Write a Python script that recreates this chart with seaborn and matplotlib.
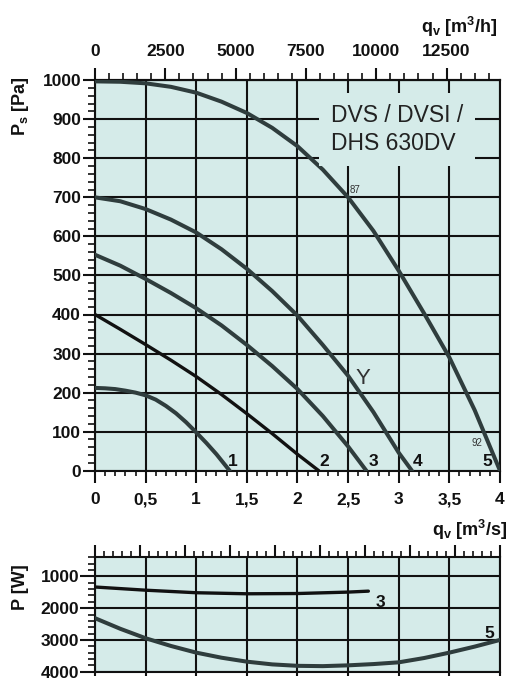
import matplotlib
matplotlib.use('Agg')
import matplotlib.pyplot as plt
import seaborn as sns
from matplotlib.ticker import MultipleLocator, NullFormatter

# 데이터 - 정압 곡선 q [m3/s], Ps [Pa]
q1 = [0, 0.1, 0.2, 0.3, 0.4, 0.5, 0.6, 0.7, 0.8, 0.9, 1.0, 1.1, 1.2, 1.33]
ps1 = [212, 211, 209, 205, 200, 193, 182, 166, 147, 124, 98, 71, 42, 0]

q2 = [0, 0.25, 0.5, 0.75, 1.0, 1.25, 1.5, 1.75, 2.0, 2.21]
ps2 = [400, 362, 323, 283, 241, 195, 146, 95, 42, 0]

q3 = [0, 0.25, 0.5, 0.75, 1.0, 1.25, 1.5, 1.75, 2.0, 2.25, 2.5, 2.68]
ps3 = [553, 525, 491, 455, 416, 372, 322, 268, 209, 140, 62, 0]

q4 = [0, 0.25, 0.5, 0.75, 1.0, 1.25, 1.5, 1.75, 2.0, 2.25, 2.5, 2.75, 3.0, 3.13]
ps4 = [700, 690, 670, 643, 610, 567, 517, 460, 397, 322, 243, 150, 46, 0]

q5 = [0, 0.25, 0.5, 0.75, 1.0, 1.25, 1.5, 1.75, 2.0, 2.25, 2.5, 2.75, 3.0, 3.25, 3.5, 3.75, 4.0]
ps5 = [997, 996, 992, 983, 968, 945, 916, 878, 831, 771, 700, 614, 512, 403, 290, 155, 0]

# 소비 전력 곡선 P [W]
qp3 = [0, 0.5, 1.0, 1.5, 2.0, 2.5, 2.7]
pw3 = [1335, 1435, 1515, 1548, 1540, 1495, 1465]
qp5 = [0, 0.25, 0.5, 0.75, 1.0, 1.25, 1.5, 1.75, 2.0, 2.25, 2.5, 2.75, 3.0, 3.25, 3.5, 3.75, 4.0]
pw5 = [2316, 2650, 2947, 3190, 3400, 3560, 3684, 3770, 3815, 3825, 3800, 3760, 3705, 3570, 3400, 3210, 3000]

# 눈금 라벨
q_ticks = [0, 0.5, 1, 1.5, 2, 2.5, 3, 3.5, 4]
q_labels = ['0', '0,5', '1', '1,5', '2', '2,5', '3', '3,5', '4']
qh_ticks = [0, 2500, 5000, 7500, 10000, 12500]
ps_ticks = [0, 100, 200, 300, 400, 500, 600, 700, 800, 900, 1000]
pw_ticks = [1000, 2000, 3000, 4000]

sns.set_theme(style='ticks')
plt.rcParams['font.family'] = ['Liberation Sans', 'DejaVu Sans']
plt.rcParams['font.weight'] = 'bold'
plt.rcParams['mathtext.fontset'] = 'custom'
plt.rcParams['mathtext.rm'] = 'Liberation Sans:bold'
plt.rcParams['mathtext.bf'] = 'Liberation Sans:bold'
plt.rcParams['mathtext.it'] = 'Liberation Sans:bold'

BG = '#d5ebe9'
CURVE = '#2f3d3d'
INK = '#111111'
FS = 12.5

fig = plt.figure(figsize=(5.1, 6.87), dpi=100)
ax = fig.add_axes([95 / 510, 1 - 470.7 / 687, 405 / 510, 390.5 / 687])
ax2 = fig.add_axes([95 / 510, 1 - 671.7 / 687, 405 / 510, 114.4 / 687])


def style_axes(a):
    a.set_facecolor(BG)
    for sp in a.spines.values():
        sp.set_visible(True)
        sp.set_color(INK)
        sp.set_linewidth(1.5)
    a.grid(True, which='major', color=INK, lw=1.5)
    a.set_xlabel('')
    a.set_ylabel('')


# 1. 정압 곡선
curves = [(q1, ps1, CURVE, 2.9), (q2, ps2, INK, 2.4), (q3, ps3, CURVE, 2.9),
          (q4, ps4, CURVE, 2.9), (q5, ps5, CURVE, 2.9)]
for q, p, c, w in curves:
    sns.lineplot(x=q, y=p, ax=ax, color=c, lw=w, sort=False, zorder=3,
                 solid_joinstyle='round')

ax.set_xlim(0, 4)
ax.set_ylim(0, 1000)
ax.set_xticks(q_ticks, labels=q_labels)
ax.xaxis.set_minor_locator(MultipleLocator(0.1))
ax.set_yticks(ps_ticks)
ax.yaxis.set_minor_locator(MultipleLocator(20))
style_axes(ax)
ax.tick_params(axis='x', which='major', direction='out', length=8.5, width=1.5,
               pad=7, labelsize=FS, colors=INK)
ax.tick_params(axis='x', which='minor', direction='out', length=3.8, width=1.2, colors=INK)
ax.tick_params(axis='y', which='major', direction='out', length=9, width=1.5,
               pad=1, labelsize=FS, colors=INK)
ax.tick_params(axis='y', which='minor', direction='out', length=5, width=1.2, colors=INK)

# 상단 m3/h 축
sec = ax.secondary_xaxis('top', functions=(lambda x: x * 3600, lambda x: x / 3600))
sec.set_xticks(qh_ticks)
sec.xaxis.set_minor_locator(MultipleLocator(500))
sec.tick_params(which='major', direction='out', length=8.5, width=1.5, pad=7,
                labelsize=FS, colors=INK)
sec.tick_params(which='minor', direction='out', length=5, width=1.2, colors=INK)
sec.spines['top'].set_linewidth(1.5)
sec.spines['top'].set_color(INK)

# 곡선 번호 / 주석
for lbl, x in zip(['1', '2', '3', '4', '5'], [1.36, 2.26, 2.75, 3.19, 3.87]):
    ax.text(x, 23, lbl, fontsize=FS, ha='center', va='center', color=INK, zorder=5)
ax.text(2.65, 237, 'Y', fontsize=16, fontweight='normal', ha='center', va='center',
        color='#333333', zorder=5)
ax.text(2.57, 718, '87', fontsize=7, fontweight='normal', ha='center', va='center',
        color='#333333', zorder=5)
ax.text(3.77, 72, '92', fontsize=7, fontweight='normal', ha='center', va='center',
        color='#333333', zorder=5)
ax.text(2.33, 874, 'DVS / DVSI /\nDHS 630DV', fontsize=16.5, fontweight='normal',
        ha='left', va='center', color='#222222', linespacing=1.25, zorder=4,
        bbox=dict(boxstyle='square,pad=0.5', facecolor=BG, edgecolor='none'))

# 2. 소비 전력 곡선
sns.lineplot(x=qp3, y=pw3, ax=ax2, color=INK, lw=2.4, sort=False, zorder=3)
sns.lineplot(x=qp5, y=pw5, ax=ax2, color=CURVE, lw=2.9, sort=False, zorder=3,
             solid_joinstyle='round')
ax2.set_xlim(0, 4)
ax2.set_ylim(4000, 400)
ax2.set_xticks(q_ticks)
ax2.xaxis.set_major_formatter(NullFormatter())
ax2.set_yticks(pw_ticks)
ax2.yaxis.set_minor_locator(MultipleLocator(200))
style_axes(ax2)
ax2.tick_params(axis='x', which='major', direction='out', length=3, width=1.5, colors=INK)
ax2.tick_params(axis='y', which='major', direction='out', length=10.5, width=1.5,
                pad=1, labelsize=FS, colors=INK)
ax2.tick_params(axis='y', which='minor', direction='out', length=5, width=1.2, colors=INK)

sec2 = ax2.secondary_xaxis('top')
sec2.xaxis.set_major_locator(MultipleLocator(4 / 9))
sec2.xaxis.set_minor_locator(MultipleLocator(4 / 45))
sec2.xaxis.set_major_formatter(NullFormatter())
sec2.tick_params(which='major', direction='out', length=8.5, width=1.5, colors=INK)
sec2.tick_params(which='minor', direction='out', length=4, width=1.2, colors=INK)

ax2.text(2.82, 1830, '3', fontsize=FS, ha='center', va='center', color=INK, zorder=5)
ax2.text(3.89, 2790, '5', fontsize=FS, ha='center', va='center', color=INK, zorder=5)

# 축 제목
fig.text(21 / 510, 1 - 106 / 687, r'$\mathbf{P_s}$ [Pa]', rotation=90, fontsize=13,
         ha='center', va='center', color=INK)
fig.text(21 / 510, 1 - 587 / 687, 'P [W]', rotation=90, fontsize=13,
         ha='center', va='center', color=INK)
fig.text(497 / 510, 1 - 27 / 687, r'$\mathbf{q_v}$ [m$^\mathbf{3}$/h]', fontsize=13,
         ha='right', va='center', color=INK)
fig.text(507 / 510, 1 - 530 / 687, r'$\mathbf{q_v}$ [m$^\mathbf{3}$/s]', fontsize=13,
         ha='right', va='center', color=INK)

fig.savefig('out.png', dpi=100, facecolor='white')
